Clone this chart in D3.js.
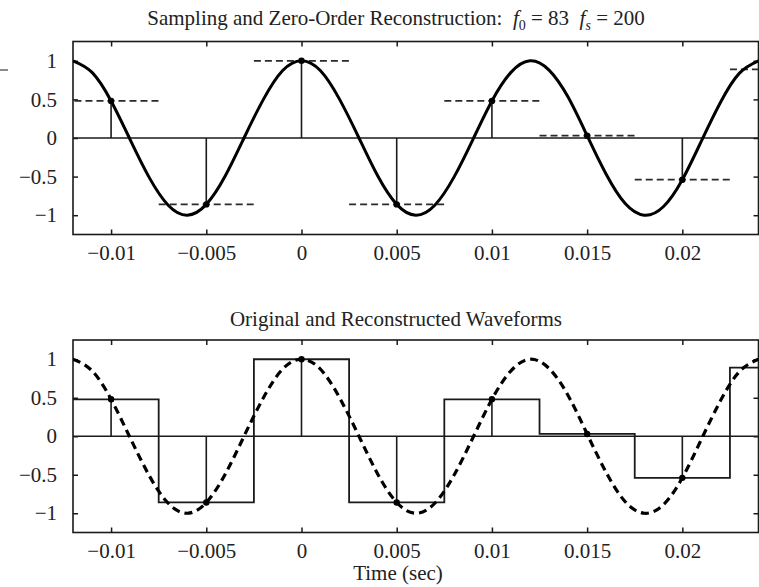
<!DOCTYPE html>
<html>
<head>
<meta charset="utf-8">
<script src="https://cdn.jsdelivr.net/npm/d3@7"></script>
<style>
  html, body { margin: 0; padding: 0; background: #fff; }
  svg { display: block; }
  text { font-family: "Liberation Serif", "Times New Roman", serif; fill: #222; }
</style>
</head>
<body>
<svg id="chart" width="759" height="587"></svg>
<script>
// ---- data ----
const xTicks = [-0.01, -0.005, 0, 0.005, 0.01, 0.015, 0.02];
const xTickLabels = ["\u22120.01", "\u22120.005", "0", "0.005", "0.01", "0.015", "0.02"];
const yTicks = [-1, -0.5, 0, 0.5, 1];
const yTickLabels = ["\u22121", "\u22120.5", "0", "0.5", "1"];

// sample instants (s) and sampled values
const sampleTimes  = [-0.015, -0.01, -0.005, 0, 0.005, 0.01, 0.015, 0.02, 0.025];
const sampleValues = [0.03, 0.48, -0.86, 1.0, -0.86, 0.48, 0.03, -0.54, 0.89];
const holdHalf = 0.0025;   // half of the hold interval (1/fs = 0.005 s)

// original continuous waveform, read every 1 ms
const curveTimes = [-0.012,-0.011,-0.010,-0.009,-0.008,-0.007,-0.006,-0.005,-0.004,-0.003,-0.002,-0.001,
                    0.000,0.001,0.002,0.003,0.004,0.005,0.006,0.007,0.008,0.009,0.010,0.011,0.012,
                    0.013,0.014,0.015,0.016,0.017,0.018,0.019,0.020,0.021,0.022,0.023,0.024];
const curveValues = [1.00,0.85,0.48,-0.02,-0.51,-0.87,-1.00,-0.86,-0.49,0.01,0.50,0.87,
                     1.00,0.87,0.50,0.01,-0.49,-0.86,-1.00,-0.87,-0.51,-0.02,0.48,0.85,1.00,
                     0.88,0.53,0.03,-0.47,-0.85,-1.00,-0.89,-0.54,-0.04,0.46,0.84,1.00];

const titleTop = "Sampling and Zero-Order Reconstruction:";
const titleBottom = "Original and Reconstructed Waveforms";
const xLabel = "Time (sec)";

// ---- layout ----
const svg = d3.select("#chart");
const left = 73, right = 758.5;
const x = d3.scaleLinear().domain([-0.012, 0.024]).range([left, right]);
const panels = [
  { top: 41.5, bottom: 234.5, id: "p1" },
  { top: 340,  bottom: 532.5, id: "p2" }
];
panels.forEach(p => {
  p.y = d3.scaleLinear().domain([-1.25, 1.25]).range([p.bottom, p.top]);
  svg.append("clipPath").attr("id", "clip-" + p.id)
    .append("rect").attr("x", left).attr("y", p.top)
    .attr("width", right - left).attr("height", p.bottom - p.top);
});

const fontSize = 21;
const ink = "#1a1a1a";

function drawAxes(p) {
  const g = svg.append("g");
  const tickLen = 5;
  const bottomAxis = d3.axisBottom(x).tickValues(xTicks).tickSize(-tickLen).tickPadding(7)
      .tickFormat((d, i) => xTickLabels[i]);
  const topAxis = d3.axisTop(x).tickValues(xTicks).tickSize(-tickLen).tickFormat("");
  const leftAxis = d3.axisLeft(p.y).tickValues(yTicks).tickSize(-tickLen).tickPadding(16)
      .tickFormat((d, i) => yTickLabels[i]);
  const rightAxis = d3.axisRight(p.y).tickValues(yTicks).tickSize(-tickLen).tickFormat("");

  const gb = g.append("g").attr("transform", `translate(0,${p.bottom})`).call(bottomAxis);
  const gt = g.append("g").attr("transform", `translate(0,${p.top})`).call(topAxis);
  const gl = g.append("g").attr("transform", `translate(${left},0)`).call(leftAxis);
  const gr = g.append("g").attr("transform", `translate(${right},0)`).call(rightAxis);
  [gb, gt, gl, gr].forEach(a => {
    a.select(".domain").remove();
    a.selectAll(".tick line").attr("stroke", ink).attr("stroke-width", 1.5);
    a.selectAll(".tick text").attr("font-family", "Liberation Serif")
      .attr("font-size", fontSize).attr("fill", "#222");
  });
  gb.selectAll(".tick text").attr("dy", "0.9em");
  // frame
  g.append("rect").attr("x", left).attr("y", p.top)
    .attr("width", right - left).attr("height", p.bottom - p.top)
    .attr("fill", "none").attr("stroke", ink).attr("stroke-width", 1.6);
  // zero line
  g.append("line").attr("x1", left).attr("x2", right)
    .attr("y1", p.y(0)).attr("y2", p.y(0))
    .attr("stroke", ink).attr("stroke-width", 1.5);
}

const samples = sampleTimes.map((t, i) => ({ t, v: sampleValues[i] }));
const curve = curveTimes.map((t, i) => ({ t, v: curveValues[i] }));

function drawStems(p, layer) {
  layer.selectAll("line.stem").data(samples).join("line").attr("class", "stem")
    .attr("x1", d => x(d.t)).attr("x2", d => x(d.t))
    .attr("y1", p.y(0)).attr("y2", d => p.y(d.v))
    .attr("stroke", ink).attr("stroke-width", 1.6);
  layer.selectAll("circle.dot").data(samples).join("circle").attr("class", "dot")
    .attr("cx", d => x(d.t)).attr("cy", d => p.y(d.v)).attr("r", 3.2)
    .attr("fill", "#000");
}

// ---- panel 1 ----
const P1 = panels[0];
drawAxes(P1);
const L1 = svg.append("g").attr("clip-path", "url(#clip-p1)");
L1.selectAll("line.hold").data(samples).join("line").attr("class", "hold")
  .attr("x1", d => x(d.t - holdHalf)).attr("x2", d => x(d.t + holdHalf))
  .attr("y1", d => P1.y(d.v)).attr("y2", d => P1.y(d.v))
  .attr("stroke", "#2a2a2a").attr("stroke-width", 1.7).attr("stroke-dasharray", "7,4");
L1.append("path").datum(curve)
  .attr("d", d3.line().x(d => x(d.t)).y(d => P1.y(d.v)).curve(d3.curveNatural))
  .attr("fill", "none").attr("stroke", "#000").attr("stroke-width", 3);
drawStems(P1, L1.append("g"));

// ---- panel 2 ----
const P2 = panels[1];
drawAxes(P2);
const L2 = svg.append("g").attr("clip-path", "url(#clip-p2)");
const stairPts = samples.map(d => ({ t: d.t - holdHalf, v: d.v }));
stairPts.push({ t: samples[samples.length - 1].t + holdHalf, v: samples[samples.length - 1].v });
L2.append("path").datum(stairPts)
  .attr("d", d3.line().x(d => x(d.t)).y(d => P2.y(d.v)).curve(d3.curveStepAfter))
  .attr("fill", "none").attr("stroke", ink).attr("stroke-width", 1.8);
drawStems(P2, L2);
L2.append("path").datum(curve)
  .attr("d", d3.line().x(d => x(d.t)).y(d => P2.y(d.v)).curve(d3.curveNatural))
  .attr("fill", "none").attr("stroke", "#000").attr("stroke-width", 3.2)
  .attr("stroke-dasharray", "8,5");

// ---- titles ----
const tTop = svg.append("text").attr("x", 396).attr("y", 25)
  .attr("text-anchor", "middle").attr("font-size", fontSize);
tTop.append("tspan").text(titleTop + "\u00A0\u00A0");
tTop.append("tspan").attr("font-style", "italic").text("f");
tTop.append("tspan").attr("font-size", 14).attr("dy", 5).text("0");
tTop.append("tspan").attr("dy", -5).text("\u00A0= 83\u00A0\u00A0");
tTop.append("tspan").attr("font-style", "italic").text("f");
tTop.append("tspan").attr("font-style", "italic").attr("font-size", 14).attr("dy", 5).text("s");
tTop.append("tspan").attr("dy", -5).text("\u00A0= 200");

svg.append("text").attr("x", 396).attr("y", 326)
  .attr("text-anchor", "middle").attr("font-size", fontSize).text(titleBottom);
svg.append("text").attr("x", 398).attr("y", 580)
  .attr("text-anchor", "middle").attr("font-size", fontSize).text(xLabel);

// small cropping remnant at the left edge of the source figure
svg.append("line").attr("x1", 0).attr("x2", 8).attr("y1", 70).attr("y2", 70)
  .attr("stroke", ink).attr("stroke-width", 1);
</script>
</body>
</html>
